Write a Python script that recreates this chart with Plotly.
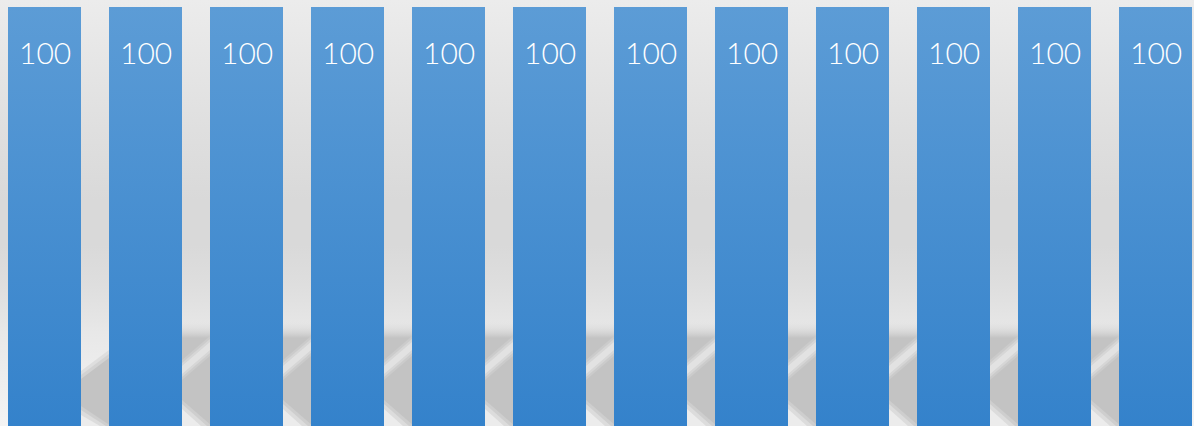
import plotly.graph_objects as go

# ---------------- data ----------------
categories = ["1", "2", "3", "4", "5", "6", "7", "8", "9", "10", "11", "12"]
values = [100, 100, 100, 100, 100, 100, 100, 100, 100, 100, 100, 100]
value_labels = [str(v) for v in values]

# ---------------- geometry / style ----------------
W, H = 1194, 426
PITCH_PX = 101.0
FIRST_CENTER_PX = 44.5
BAR_W_PX = 73.0
BAR_TOP_PX = 7.0
BAR_W = BAR_W_PX / PITCH_PX
GAP_W_PX = PITCH_PX - BAR_W_PX

X_RANGE = [(0 - FIRST_CENTER_PX) / PITCH_PX, (W - FIRST_CENTER_PX) / PITCH_PX]
YMAX = max(values) * H / (H - BAR_TOP_PX)

BAR_TOP_COLOR = "#5c9cd6"
BAR_BOTTOM_COLOR = "#3482cb"
SHADOW = "rgb(195,195,195)"

xs_pos = list(range(len(values)))


def yd(py):
    """pixel row -> data y"""
    return YMAX * (H - py) / H


def gx(k, off_px):
    """x inside gap k (between bar k and k+1), off_px pixels from its left edge"""
    return k + BAR_W / 2 + off_px / PITCH_PX


def polys(list_of_pts):
    xx, yy = [], []
    for pts in list_of_pts:
        for (a, b) in pts:
            xx.append(a)
            yy.append(b)
        xx.append(pts[0][0])
        yy.append(pts[0][1])
        xx.append(None)
        yy.append(None)
    return xx, yy


fig = go.Figure()

# ---------------- background gradient ----------------
bg_py = [0, 60, 130, 200, 245, 285, 320, 332, 426]
bg_gray = [236, 230, 223, 217, 217, 222, 229, 232, 244]
bg_scale = sorted(((H - p) / H, f"rgb({g},{g},{g})") for p, g in zip(bg_py, bg_gray))
bx, by = polys([[(X_RANGE[0], 0), (X_RANGE[1], 0), (X_RANGE[1], YMAX), (X_RANGE[0], YMAX)]])
fig.add_trace(go.Scatter(x=bx, y=by, fill="toself", mode="lines", line=dict(width=0),
                         fillgradient=dict(type="vertical", start=0, stop=YMAX,
                                           colorscale=[[a, c] for a, c in bg_scale]),
                         hoverinfo="skip", showlegend=False))

n_gaps = len(values) - 1
g0 = GAP_W_PX

# ---------------- floor shadows (decoration) ----------------
sx, sy = polys([[(gx(k, 0), yd(426)), (gx(k, g0), yd(426)), (gx(k, g0), yd(321)), (gx(k, 0), yd(321))]
                for k in range(1, n_gaps)])
top_frac = (yd(338)) / yd(321)
fig.add_trace(go.Scatter(x=sx, y=sy, fill="toself", mode="lines", line=dict(width=0),
                         fillgradient=dict(type="vertical", start=0, stop=yd(321),
                                           colorscale=[[0, SHADOW], [top_frac, SHADOW],
                                                       [1, "rgba(225,225,225,0)"]]),
                         hoverinfo="skip", showlegend=False))

for off, col in [(-8, "rgb(222,222,222)"), (-4, "rgb(210,210,210)"), (0, SHADOW)]:
    ax_, ay_ = polys([[(gx(0, 0), yd(379 + off)), (gx(0, g0), yd(358 + off)),
                       (gx(0, g0), yd(426)), (gx(0, 0), yd(426))]])
    fig.add_trace(go.Scatter(x=ax_, y=ay_, fill="toself", mode="lines", line=dict(width=0),
                             fillcolor=col, hoverinfo="skip", showlegend=False))

for half, col in [(10, "rgb(203,203,203)"), (7, "rgb(214,214,214)"), (4, "rgb(226,226,226)")]:
    tx, ty = polys([[(gx(k, 0), yd(370 - half)), (gx(k, g0), yd(346 - half)),
                     (gx(k, g0), yd(346 + half)), (gx(k, 0), yd(370 + half))]
                    for k in range(1, n_gaps)])
    fig.add_trace(go.Scatter(x=tx, y=ty, fill="toself", mode="lines", line=dict(width=0),
                             fillcolor=col, hoverinfo="skip", showlegend=False))

for (top, reach, col) in [(400, 30, "rgb(206,206,206)"), (404, 25, "rgb(220,220,220)"),
                          (409, 19, "rgb(236,236,236)")]:
    cx, cy = polys([[(gx(k, 0), yd(top + (6 if k == 0 else 0))), (gx(k, 0), yd(426)),
                     (gx(k, reach), yd(426))] for k in range(0, n_gaps)])
    fig.add_trace(go.Scatter(x=cx, y=cy, fill="toself", mode="lines", line=dict(width=0),
                             fillcolor=col, hoverinfo="skip", showlegend=False))

# ---------------- bars ----------------
bxs, bys = polys([[(i - BAR_W / 2, 0), (i + BAR_W / 2, 0), (i + BAR_W / 2, v), (i - BAR_W / 2, v)]
                  for i, v in zip(xs_pos, values)])
fig.add_trace(go.Scatter(x=bxs, y=bys, fill="toself", mode="lines", line=dict(width=0),
                         fillgradient=dict(type="vertical", start=0, stop=max(values),
                                           colorscale=[[0, BAR_BOTTOM_COLOR], [1, BAR_TOP_COLOR]]),
                         hoverinfo="skip", showlegend=False, name="values"))

# ---------------- value labels ----------------
for i, (v, t) in enumerate(zip(values, value_labels)):
    fig.add_annotation(x=xs_pos[i], y=v, text=t, showarrow=False, yshift=-45,
                       font=dict(family="Lato", size=30, color="white", weight=300))

fig.update_layout(
    width=W, height=H, autosize=False,
    margin=dict(l=0, r=0, t=0, b=0, pad=0),
    paper_bgcolor="#e6e6e6", plot_bgcolor="#e6e6e6",
    showlegend=False,
    xaxis=dict(range=X_RANGE, visible=False, fixedrange=True),
    yaxis=dict(range=[0, YMAX], visible=False, fixedrange=True),
)

fig.write_html("out.html", config={"displayModeBar": False, "staticPlot": True},
               post_script="document.body.style.margin='0';document.body.style.overflow='hidden';")
